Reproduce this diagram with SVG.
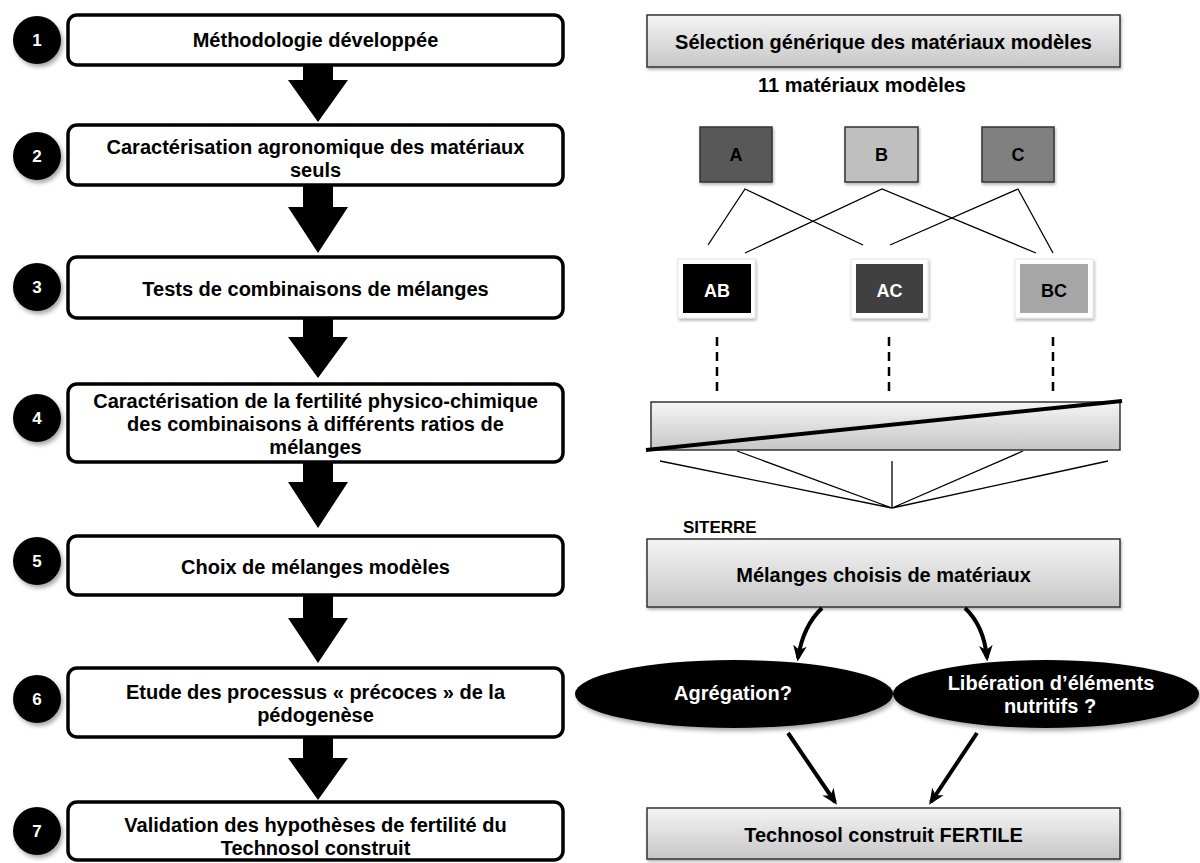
<svg xmlns="http://www.w3.org/2000/svg" width="1200" height="863" viewBox="0 0 1200 863">
<defs>
<style>
.t{font-family:"Liberation Sans",Arial,sans-serif;font-weight:bold;font-size:20px;fill:#000;text-anchor:middle}
.w{fill:#fff}
.step{fill:#fff;stroke:#000;stroke-width:3.5}
.num{fill:#000}
.numt{font-family:"Liberation Sans",Arial,sans-serif;font-weight:bold;font-size:17px;fill:#fff;text-anchor:middle}
.fat{fill:#000}
.gbox{fill:url(#g1);stroke:#333;stroke-width:1.5}
.thin{stroke:#000;stroke-width:1.3;fill:none}
.dash{stroke:#000;stroke-width:2.5;stroke-dasharray:9 6;fill:none}
.arr{stroke:#000;stroke-width:4;fill:none;marker-end:url(#ah)}
</style>
<linearGradient id="g1" x1="0" y1="0" x2="0" y2="1">
<stop offset="0" stop-color="#f5f5f5"/>
<stop offset="1" stop-color="#c6c6c6"/>
</linearGradient>
<filter id="sh" x="-20%" y="-20%" width="150%" height="160%">
<feDropShadow dx="2" dy="3" stdDeviation="2" flood-color="#000" flood-opacity="0.35"/>
</filter>
<filter id="sh2" x="-20%" y="-20%" width="150%" height="160%">
<feDropShadow dx="1" dy="2" stdDeviation="1.5" flood-color="#000" flood-opacity="0.3"/>
</filter>
<marker id="ah" viewBox="0 0 14 12" refX="11" refY="6" markerWidth="16" markerHeight="14" markerUnits="userSpaceOnUse" orient="auto">
<path d="M0,0 L14,6 L0,12 L4,6 Z" fill="#000"/>
</marker>
</defs>

<!-- Left column: steps -->
<g id="step1"><circle class="num" cx="37" cy="40" r="24" filter="url(#sh)"/><text class="numt" x="37" y="46">1</text>
<rect class="step" x="68" y="15" width="495" height="50" rx="9"/><text class="t" x="315.5" y="47">Méthodologie développée</text></g>
<g id="step2"><circle class="num" cx="37" cy="156" r="24" filter="url(#sh)"/><text class="numt" x="37" y="162">2</text>
<rect class="step" x="68" y="125" width="495" height="60" rx="9"/><text class="t" x="315.5" y="154">Caractérisation agronomique des matériaux</text><text class="t" x="315.5" y="177">seuls</text></g>
<g id="step3"><circle class="num" cx="37" cy="287" r="24" filter="url(#sh)"/><text class="numt" x="37" y="293">3</text>
<rect class="step" x="68" y="257" width="495" height="61" rx="9"/><text class="t" x="315.5" y="296">Tests de combinaisons de mélanges</text></g>
<g id="step4"><circle class="num" cx="37" cy="418" r="24" filter="url(#sh)"/><text class="numt" x="37" y="424">4</text>
<rect class="step" x="68" y="384" width="495" height="78" rx="9"/><text class="t" x="315.5" y="408">Caractérisation de la fertilité physico-chimique</text><text class="t" x="315.5" y="431">des combinaisons à différents ratios de</text><text class="t" x="315.5" y="454">mélanges</text></g>
<g id="step5"><circle class="num" cx="37" cy="561" r="24" filter="url(#sh)"/><text class="numt" x="37" y="567">5</text>
<rect class="step" x="68" y="536" width="495" height="59" rx="9"/><text class="t" x="315.5" y="574">Choix de mélanges modèles</text></g>
<g id="step6"><circle class="num" cx="37" cy="699" r="24" filter="url(#sh)"/><text class="numt" x="37" y="705">6</text>
<rect class="step" x="68" y="668" width="495" height="69" rx="9"/><text class="t" x="315.5" y="699">Etude des processus « précoces » de la</text><text class="t" x="315.5" y="722">pédogenèse</text></g>
<g id="step7"><circle class="num" cx="37" cy="831" r="24" filter="url(#sh)"/><text class="numt" x="37" y="837">7</text>
<rect class="step" x="68" y="802" width="495" height="58" rx="9"/><text class="t" x="315.5" y="832">Validation des hypothèses de fertilité  du</text><text class="t" x="315.5" y="855">Technosol construit</text></g>

<!-- Right column -->
<g id="selection"><rect class="gbox" x="647" y="15" width="473" height="52" filter="url(#sh2)"/><text class="t" x="883.5" y="49">Sélection générique des matériaux modèles</text></g>
<g id="label11"><text class="t" x="862" y="92">11 matériaux modèles</text></g>
<g id="matA"><rect x="700" y="127" width="72" height="55" fill="#595959" stroke="#333" stroke-width="1.5" filter="url(#sh2)"/><text class="t" x="736" y="161" style="font-size:18px">A</text></g>
<g id="matB"><rect x="845" y="127" width="73" height="55" fill="#bfbfbf" stroke="#333" stroke-width="1.5" filter="url(#sh2)"/><text class="t" x="881.5" y="161" style="font-size:18px">B</text></g>
<g id="matC"><rect x="982" y="127" width="72" height="55" fill="#808080" stroke="#333" stroke-width="1.5" filter="url(#sh2)"/><text class="t" x="1018" y="161" style="font-size:18px">C</text></g>
<g id="mixAB"><rect x="678" y="259" width="77" height="59" fill="#fff" stroke="#e6e6e6" stroke-width="1" filter="url(#sh2)"/><rect x="683" y="264" width="68" height="49" fill="#000"/><text class="t w" x="717" y="297" style="font-size:18px">AB</text></g>
<g id="mixAC"><rect x="851" y="259" width="77" height="59" fill="#fff" stroke="#e6e6e6" stroke-width="1" filter="url(#sh2)"/><rect x="856" y="264" width="67" height="49" fill="#404040"/><text class="t w" x="889.5" y="297" style="font-size:18px">AC</text></g>
<g id="mixBC"><rect x="1015" y="259" width="78" height="59" fill="#fff" stroke="#e6e6e6" stroke-width="1" filter="url(#sh2)"/><rect x="1020" y="264" width="68" height="49" fill="#a6a6a6"/><text class="t" x="1054" y="297" style="font-size:18px">BC</text></g>
<g id="ratiobar"><rect class="gbox" x="651" y="402" width="469" height="48" stroke="#000"/><line x1="646" y1="450" x2="1122" y2="401" stroke="#000" stroke-width="4"/></g>
<g id="siterre"><text class="t" x="683" y="533" style="font-size:17px;text-anchor:start">SITERRE</text></g>
<g id="melanges"><rect class="gbox" x="647" y="539" width="473" height="68" filter="url(#sh2)"/><text class="t" x="883.5" y="582">Mélanges choisis de matériaux</text></g>
<g id="agregation"><ellipse cx="734" cy="694" rx="159" ry="34" fill="#000" filter="url(#sh)"/><text class="t w" x="733" y="700">Agrégation?</text></g>
<g id="liberation"><ellipse cx="1046" cy="694" rx="153" ry="34" fill="#000" filter="url(#sh)"/><text class="t w" x="1051" y="690">Libération d’éléments</text><text class="t w" x="1050" y="713">nutritifs ?</text></g>
<g id="technosol"><rect class="gbox" x="647" y="808" width="473" height="51" filter="url(#sh2)"/><text class="t" x="883.5" y="842">Technosol construit FERTILE</text></g>

<!-- Connectors -->
<g id="connectors">
<path class="fat" d="M303,65 L333,65 L333,80 L348,80 L318,122 L288,80 L303,80 Z"/>
<path class="fat" d="M303,185 L333,185 L333,207 L348,207 L318,253 L288,207 L303,207 Z"/>
<path class="fat" d="M303,318 L333,318 L333,337 L348,337 L318,378 L288,337 L303,337 Z"/>
<path class="fat" d="M303,462 L333,462 L333,482 L348,482 L318,528 L288,482 L303,482 Z"/>
<path class="fat" d="M303,595 L333,595 L333,618 L348,618 L318,663 L288,618 L303,618 Z"/>
<path class="fat" d="M303,737 L333,737 L333,758 L348,758 L318,800 L288,758 L303,758 Z"/>
<polyline class="thin" points="708,245 745,189 863,245"/>
<polyline class="thin" points="745,253 882,189 1036,253"/>
<polyline class="thin" points="890,245 1018,189 1053,253"/>
<line class="dash" x1="717" y1="337" x2="717" y2="392"/>
<line class="dash" x1="889" y1="337" x2="889" y2="392"/>
<line class="dash" x1="1053" y1="337" x2="1053" y2="392"/>
<polyline class="thin" points="660,461 892,508 737,451"/>
<line class="thin" x1="892" y1="461" x2="892" y2="508"/>
<polyline class="thin" points="1023,451 892,508 1108,461"/>
<path class="arr" d="M822,608 Q803,626 798,658"/>
<path class="arr" d="M965,608 Q984,626 987,658"/>
<line class="arr" x1="788" y1="733" x2="835" y2="802"/>
<line class="arr" x1="977" y1="733" x2="931" y2="802"/>
</g>
</svg>
